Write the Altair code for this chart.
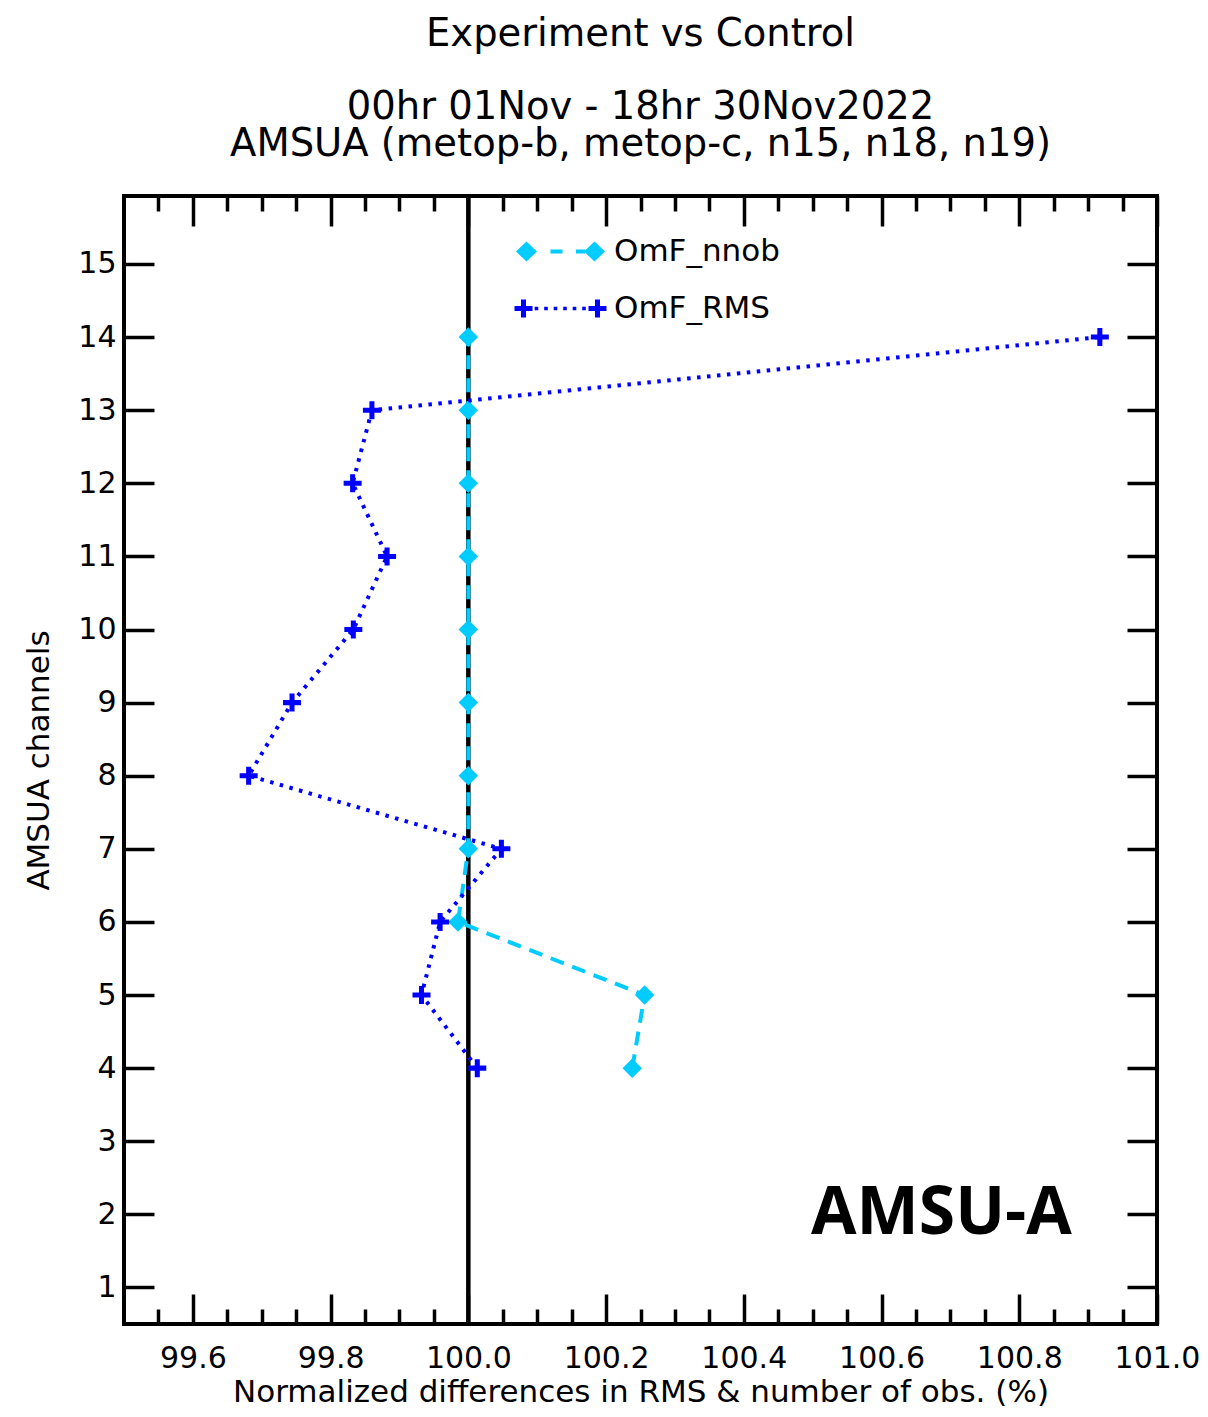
import altair as alt
import pandas as pd

# ---------------- data ----------------
channels = [4, 5, 6, 7, 8, 9, 10, 11, 12, 13, 14]
omf_nnob = [100.238, 100.256, 99.985, 100.0, 100.0, 100.0, 100.0, 100.0, 100.0, 100.0, 100.0]
omf_rms = [100.013, 99.932, 99.959, 100.048, 99.681, 99.744, 99.833, 99.882, 99.832, 99.860, 100.917]
series_names = ["OmF_nnob", "OmF_RMS"]
series_colors = ["#00CCFF", "#0000FF"]

x_major = [99.6, 99.8, 100.0, 100.2, 100.4, 100.6, 100.8, 101.0]
x_minor = [99.55, 99.65, 99.70, 99.75, 99.85, 99.90, 99.95, 100.05, 100.10, 100.15,
           100.25, 100.30, 100.35, 100.45, 100.50, 100.55, 100.65, 100.70, 100.75,
           100.85, 100.90, 100.95]
y_ticks = list(range(1, 16))
ref_value = [100.0]
tag_text = ["AMSU-A"]
tag_x = [100.687]
tag_y = [2.0]

title_main = "Experiment vs Control"
title_sub = ["00hr 01Nov - 18hr 30Nov2022", "AMSUA (metop-b, metop-c, n15, n18, n19)"]
x_title = "Normalized differences in RMS & number of obs. (%)"
y_title = "AMSUA channels"

df = pd.DataFrame({
    "channel": channels * 2,
    "value": omf_nnob + omf_rms,
    "series": [series_names[0]] * len(channels) + [series_names[1]] * len(channels),
})
df_ref = pd.DataFrame({"x": ref_value})
df_tag = pd.DataFrame({"x": tag_x, "y": tag_y, "t": tag_text})

# ---------------- styling helpers ----------------
FONT = "DejaVu Sans"
xs = alt.Scale(domain=[99.5, 101.0], nice=False, zero=False)
ys = alt.Scale(domain=[0.5, 15.93], nice=False, zero=False)

base_axis = dict(domain=False, grid=False, tickColor="black", tickWidth=3.5,
                 labelFont=FONT, labelFontSize=30, labelColor="black",
                 titleFont=FONT, titleFontSize=31, titleFontWeight="normal",
                 titleColor="black", labelFlush=False, labelOverlap=False)

ax_bottom_major = alt.Axis(orient="bottom", values=x_major, format=".1f", tickSize=30,
                           offset=-30, labelPadding=19, title=x_title, titlePadding=4,
                           **base_axis)
ax_bottom_minor = alt.Axis(orient="bottom", values=x_minor, tickSize=15, offset=-15,
                           labels=False, title=None, **base_axis)
ax_top_major = alt.Axis(orient="top", values=x_major, tickSize=30, offset=-30,
                        labels=False, title=None, **base_axis)
ax_top_minor = alt.Axis(orient="top", values=x_minor, tickSize=15, offset=-15,
                        labels=False, title=None, **base_axis)
ay_left = alt.Axis(orient="left", values=y_ticks, format="d", tickSize=30, offset=-30,
                   labelPadding=8, title=y_title, titlePadding=22, **base_axis)
ay_right = alt.Axis(orient="right", values=y_ticks, tickSize=30, offset=-30,
                    labels=False, title=None, **base_axis)


def poly(points):
    return "M" + "L".join(f"{x:.3f},{y:.3f}" for x, y in points) + "Z"


def diamond(cx, hw=1.05, hh=1.0):
    return poly([(cx - hw, 0), (cx, -hh), (cx + hw, 0), (cx, hh)])


def plus(cx, a=0.9, t=0.25):
    return poly([(cx - a, -t), (cx - t, -t), (cx - t, -a), (cx + t, -a), (cx + t, -t),
                 (cx + a, -t), (cx + a, t), (cx + t, t), (cx + t, a), (cx - t, a),
                 (cx - t, t), (cx - a, t)])


def rect(x0, x1, h):
    return poly([(x0, -h), (x1, -h), (x1, h), (x0, h)])


legend_nnob = " ".join([diamond(-3.4), diamond(3.4), rect(-1.0, 0.2, 0.2), rect(1.55, 2.45, 0.2)])
legend_rms = " ".join([plus(-3.7), plus(3.7)] +
                      [rect(c - 0.18, c + 0.18, 0.18) for c in [-2.4, -1.45, -0.5, 0.45, 1.4, 2.35]])
plus_marker = plus(0, a=1.0, t=0.28)

# ---------------- layers ----------------
rule = alt.Chart(df_ref).mark_rule(color="black", strokeWidth=4.5).encode(
    x=alt.X("x:Q", scale=xs, axis=ax_bottom_major)
)

nnob_line = alt.Chart(df).transform_filter(
    alt.datum.series == series_names[0]
).mark_line(color=series_colors[0], strokeWidth=4, strokeDash=[14, 9]).encode(
    x=alt.X("value:Q", scale=xs, axis=ax_bottom_minor),
    y=alt.Y("channel:Q", scale=ys, axis=ay_left),
    order=alt.Order("channel:Q"),
)

nnob_pts = alt.Chart(df).transform_filter(
    alt.datum.series == series_names[0]
).mark_point(shape="diamond", filled=True, color=series_colors[0], size=380, opacity=1).encode(
    x=alt.X("value:Q", scale=xs, axis=ax_top_major),
    y=alt.Y("channel:Q", scale=ys, axis=ay_right),
)

rms_line = alt.Chart(df).transform_filter(
    alt.datum.series == series_names[1]
).mark_line(color=series_colors[1], strokeWidth=4, strokeDash=[3.5, 6.5]).encode(
    x=alt.X("value:Q", scale=xs, axis=ax_top_minor),
    y=alt.Y("channel:Q", scale=ys, axis=None),
    order=alt.Order("channel:Q"),
)

rms_pts = alt.Chart(df).transform_filter(
    alt.datum.series == series_names[1]
).mark_point(shape=plus_marker, filled=True, color=series_colors[1], size=324, opacity=1).encode(
    x=alt.X("value:Q", scale=xs, axis=None),
    y=alt.Y("channel:Q", scale=ys, axis=None),
)

tag = alt.Chart(df_tag).mark_text(font="Open Sans", fontSize=66, fontWeight="bold",
                                  color="black", align="center", baseline="middle").encode(
    x=alt.X("x:Q", scale=xs, axis=None),
    y=alt.Y("y:Q", scale=ys, axis=None),
    text="t:N",
)

leg = alt.Legend(orient="none", legendX=421, legendY=40, title=None, direction="vertical",
                 labelFont=FONT, labelFontSize=31, labelColor="black", symbolSize=400,
                 symbolStrokeWidth=0, symbolOpacity=1, labelOffset=38, rowPadding=25,
                 padding=0, labelLimit=500)
legend_layer = alt.Chart(df).transform_filter("false").mark_point(filled=True, opacity=1).encode(
    color=alt.Color("series:N", scale=alt.Scale(domain=series_names, range=series_colors), legend=leg),
    shape=alt.Shape("series:N", scale=alt.Scale(domain=series_names, range=[legend_nnob, legend_rms]),
                    legend=leg),
)

chart = alt.layer(rule, nnob_line, nnob_pts, rms_line, rms_pts, tag, legend_layer).resolve_axis(
    x="independent", y="independent"
).properties(
    width=1033,
    height=1128,
    autosize=alt.AutoSizeParams(type="none"),
    padding={"left": 116, "top": 188, "right": 43, "bottom": 85},
    title=alt.TitleParams(text=title_main, subtitle=title_sub, anchor="middle", frame="group",
                          font=FONT, fontSize=38.5, fontWeight="normal", color="black",
                          subtitleFont=FONT, subtitleFontSize=38.5, subtitleColor="black",
                          subtitleFontWeight="normal", subtitleLineHeight=37,
                          subtitlePadding=35, baseline="top", offset=29),
).configure(
    background="white",
    view=alt.ViewConfig(stroke="black", strokeWidth=4),
)

chart.save("out.html", embed_options={"renderer": "svg", "actions": False})
